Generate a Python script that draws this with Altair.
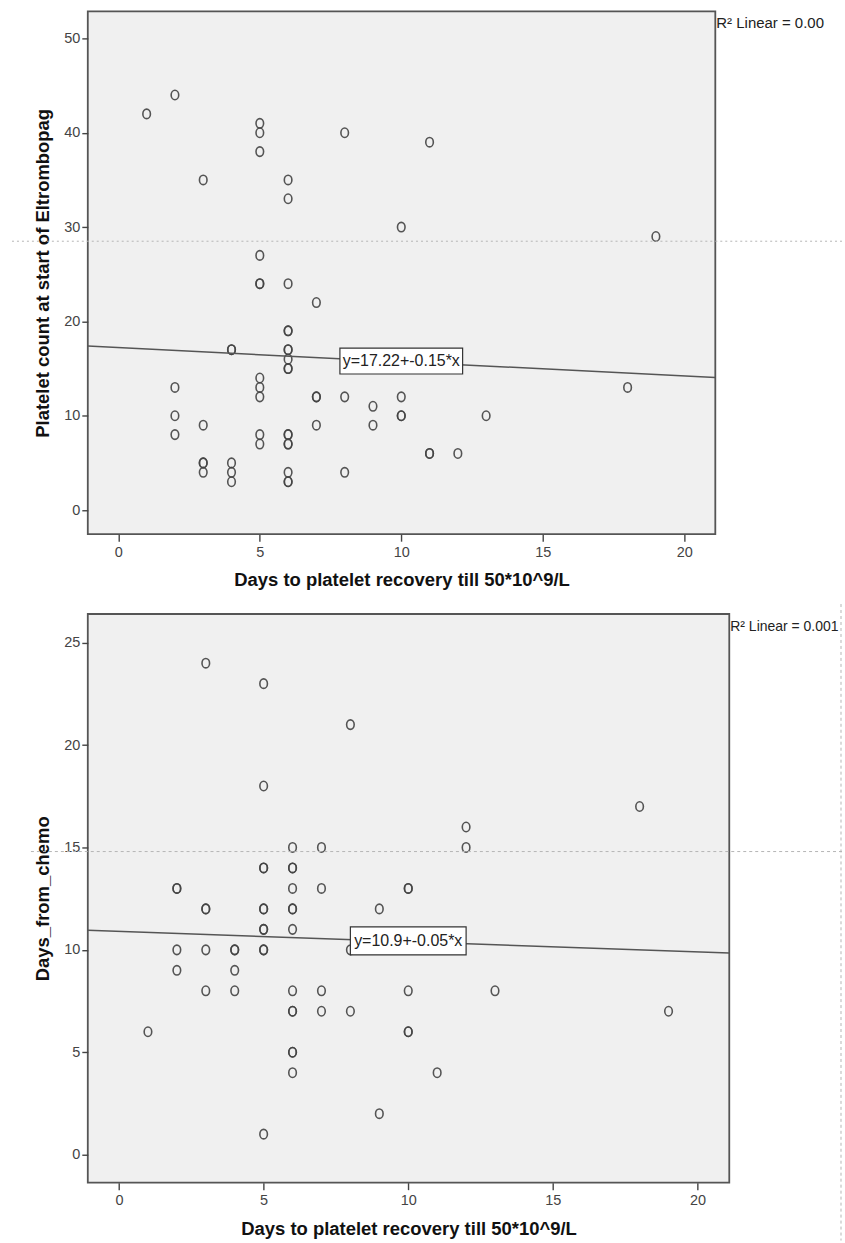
import altair as alt
import pandas as pd

# ---------------- data ----------------
# Panel 1: Days to recovery vs platelet count at start of Eltrombopag
p1_x = [1, 2, 3, 5, 5, 5, 6, 6, 8, 11, 10, 19, 5, 5, 5, 6, 7,
        6, 6, 4, 4, 6, 6, 6, 6, 6,
        2, 2, 2, 5, 5, 5, 7, 7, 8, 9, 9, 10, 10, 10, 13, 18,
        3, 5, 5, 6, 6, 6, 6, 7,
        3, 3, 3, 4, 4, 4, 6, 6, 6, 8, 11, 11, 12]
p1_y = [42, 44, 35, 41, 40, 38, 35, 33, 40, 39, 30, 29, 27, 24, 24, 24, 22,
        19, 19, 17, 17, 17, 17, 16, 15, 15,
        13, 10, 8, 14, 13, 12, 12, 12, 12, 11, 9, 12, 10, 10, 10, 13,
        9, 8, 7, 8, 8, 7, 7, 9,
        5, 5, 4, 5, 4, 3, 4, 3, 3, 4, 6, 6, 6]

# Panel 2: Days to recovery vs Days_from_chemo
p2_x = [3, 5, 8, 5, 18, 12, 12, 6, 7,
        5, 5, 6, 6,
        2, 2, 6, 7, 10, 10,
        3, 3, 5, 5, 6, 6, 9,
        5, 5, 6,
        2, 3, 4, 4, 5, 5, 8,
        2, 4,
        3, 4, 6, 7, 10, 13,
        6, 6, 7, 8, 19,
        1, 10, 10,
        6, 6,
        6, 11,
        9, 5]
p2_y = [24, 23, 21, 18, 17, 16, 15, 15, 15,
        14, 14, 14, 14,
        13, 13, 13, 13, 13, 13,
        12, 12, 12, 12, 12, 12, 12,
        11, 11, 11,
        10, 10, 10, 10, 10, 10, 10,
        9, 9,
        8, 8, 8, 8, 8, 8,
        7, 7, 7, 7, 7,
        6, 6, 6,
        5, 5,
        4, 4,
        2, 1]

# fit lines as printed on the chart (intercept, slope)
p1_fit = [17.22, -0.15]
p2_fit = [10.9, -0.05]
p1_label = ["y=17.22+-0.15*x"]
p2_label = ["y=10.9+-0.05*x"]
p1_r2 = ["R² Linear = 0.002"]
p2_r2 = ["R² Linear = 0.001"]

x_ticks = [0, 5, 10, 15, 20]
p1_yticks = [0, 10, 20, 30, 40, 50]
p2_yticks = [0, 5, 10, 15, 20, 25]

x_title = "Days to platelet recovery till 50*10^9/L"
p1_ytitle = "Platelet count at start of Eltrombopag"
p2_ytitle = "Days_from_chemo"

# ---------------- styling ----------------
FONT = "Liberation Sans, Arial, sans-serif"
NARROW = "Liberation Sans Narrow, Arial Narrow, Liberation Sans, sans-serif"
XDOM = [-1.08, 21.1]
ELLIPSE = "M -0.8 0 A 0.8 1 0 1 1 0.8 0 A 0.8 1 0 1 1 -0.8 0 Z"


def box_path(w, h):
    r = h / w
    return f"M -1 {-r} L 1 {-r} L 1 {r} L -1 {r} Z"


def panel(xs, ys, ydom, yticks, ytitle, fit, label, label_xy, box_wh, r2,
          r2_size, r2_limit, width, height, ref_y, ref_dash, ref_left,
          extra_vertical):
    df = pd.DataFrame({"x": xs, "y": ys})
    xscale = alt.Scale(domain=XDOM, nice=False, zero=False)
    yscale = alt.Scale(domain=ydom, nice=False, zero=False)
    xaxis = alt.Axis(values=x_ticks, title=x_title, tickSize=7, labelPadding=4,
                     titlePadding=12, labelFlush=False, grid=False, domain=False)
    yaxis = alt.Axis(values=yticks, title=ytitle, tickSize=6, labelPadding=2,
                     titlePadding=11, grid=False, domain=False)

    base = alt.Chart(df)
    pts = base.mark_point(shape=ELLIPSE, size=90, filled=False, color="#444444",
                          strokeWidth=1.6, opacity=0.9).encode(
        x=alt.X("x:Q", scale=xscale, axis=xaxis),
        y=alt.Y("y:Q", scale=yscale, axis=yaxis),
    )

    fit_df = pd.DataFrame({"x": XDOM, "y": [fit[0] + fit[1] * v for v in XDOM]})
    line = alt.Chart(fit_df).mark_line(color="#555555", strokeWidth=1.5).encode(
        x=alt.X("x:Q", scale=xscale), y=alt.Y("y:Q", scale=yscale))

    lab_df = pd.DataFrame({"x": [label_xy[0]], "y": [label_xy[1]], "t": label})
    bw, bh = box_wh
    box = alt.Chart(lab_df).mark_point(shape=box_path(bw, bh), size=bw * bw,
                                       filled=True, fill="white", stroke="#333333",
                                       strokeWidth=1.2, opacity=1).encode(
        x=alt.X("x:Q", scale=xscale), y=alt.Y("y:Q", scale=yscale))
    txt = alt.Chart(lab_df).mark_text(font=NARROW, fontSize=16, color="#222222",
                                      baseline="middle", align="center").encode(
        x=alt.X("x:Q", scale=xscale), y=alt.Y("y:Q", scale=yscale), text="t:N")

    r2_df = pd.DataFrame({"t": r2})
    r2t = alt.Chart(r2_df).mark_text(font=FONT, fontSize=r2_size, color="#222222",
                                     align="left", baseline="alphabetic",
                                     limit=r2_limit, ellipsis="\u200b").encode(
        x=alt.value(width + 1), y=alt.value(17), text="t:N")

    ref_df = pd.DataFrame({"y": [ref_y]})
    ref = alt.Chart(ref_df).mark_rule(color="#b5b5b5", strokeWidth=1,
                                      strokeDash=ref_dash).encode(
        x=alt.value(ref_left), x2=alt.value(845 - 87 - 1), y=alt.Y("y:Q", scale=yscale))

    # invisible rule so both panels share the same left overhang
    spacer = alt.Chart(ref_df).mark_rule(strokeOpacity=0, strokeWidth=1).encode(
        x=alt.value(-76), x2=alt.value(-70), y=alt.value(height / 2))

    layers = [pts, line, box, txt, r2t, ref, spacer]
    if extra_vertical:
        vdf = pd.DataFrame({"v": [0]})
        vr = alt.Chart(vdf).mark_rule(color="#b5b5b5", strokeWidth=1,
                                      strokeDash=[3, 3]).encode(
            x=alt.value(755), y=alt.value(-10), y2=alt.value(628))
        layers.append(vr)
    return alt.layer(*layers).properties(width=width, height=height)


top = panel(p1_x, p1_y, [-2.56, 52.86], p1_yticks, p1_ytitle, p1_fit, p1_label,
            [10.0, 15.8], (123, 26), p1_r2, 15, 108, 629, 524, 28.5, [2, 3], -76,
            False)
bottom = panel(p2_x, p2_y, [-1.37, 26.4], p2_yticks, p2_ytitle, p2_fit, p2_label,
               [10.0, 10.44], (116, 28), p2_r2, 14, 110, 643, 570, 14.8, [3, 3],
               -57, True)

chart = alt.vconcat(top, bottom, spacing=12).properties(
    padding={"top": 9, "left": 10, "right": 0, "bottom": 0},
    background="white",
).configure_view(
    fill="#f0f0f0", stroke="#555555", strokeWidth=1.8
).configure_axis(
    domain=False, grid=False,
    labelFont=FONT, labelFontSize=14.5, labelColor="#444444",
    tickColor="#444444", tickWidth=1.4,
    titleFont=FONT, titleFontSize=18.5, titleFontWeight="bold", titleColor="#111111",
)

chart.save("out.html", embed_options={"renderer": "svg", "actions": False})
